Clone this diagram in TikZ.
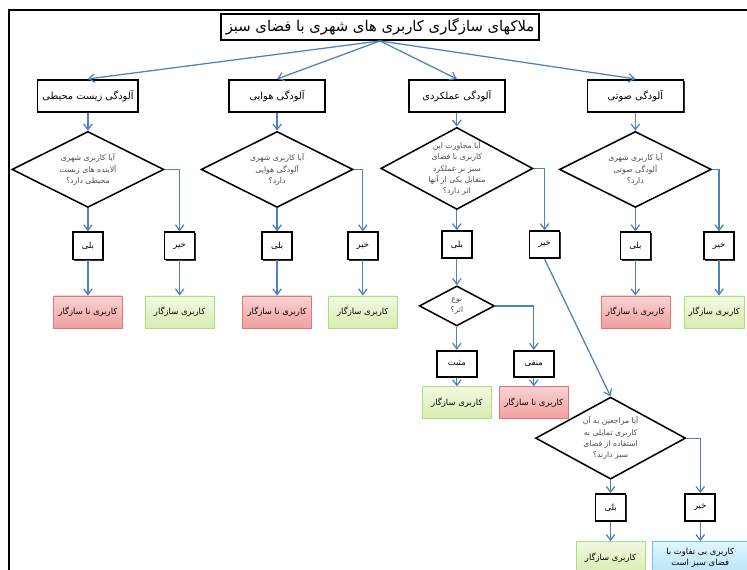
\documentclass[tikz,border=0pt]{standalone}
\usepackage{fontspec}
\newfontfamily\arabicfont[Script=Arabic]{DejaVu Sans}
\TeXXeTstate=1
\usetikzlibrary{shapes.geometric, arrows.meta, positioning, shadows}

\definecolor{linkblue}{HTML}{4F81BD}
\definecolor{unfitfill}{HTML}{FAD2D2}
\definecolor{unfitdeep}{HTML}{F0A0A0}
\definecolor{unfitline}{HTML}{D9797A}
\definecolor{fitfill}{HTML}{F0F9E0}
\definecolor{fitdeep}{HTML}{D8EDB2}
\definecolor{fitline}{HTML}{B4D886}
\definecolor{neutralfill}{HTML}{E0F5FC}
\definecolor{neutraldeep}{HTML}{B8E6F7}
\definecolor{neutralline}{HTML}{6CC3E6}

\newcommand{\fa}[1]{\beginR #1\endR}

\begin{document}
\begin{tikzpicture}[x=0.025cm, y=-0.025cm, auto,
    header/.style={rectangle, draw, line width=1.2pt, fill=white, minimum width=7.65cm, minimum height=0.65cm, font=\fontsize{10.5}{12}\selectfont\arabicfont, drop shadow={shadow xshift=0.9pt, shadow yshift=-0.9pt, fill=black, opacity=0.8}},
    category/.style={rectangle, draw, line width=1.2pt, fill=white, minimum width=2.4cm, minimum height=0.8cm, font=\fontsize{7}{8}\selectfont\arabicfont, drop shadow={shadow xshift=0.9pt, shadow yshift=-0.9pt, fill=black, opacity=0.8}},
    question/.style={diamond, draw, line width=1.1pt, fill=white, aspect=2, inner sep=-2pt, minimum width=3.8cm, minimum height=1.9cm, align=center, text=black!70, font=\fontsize{5.5}{8}\selectfont\arabicfont},
    answer/.style={rectangle, draw, line width=1.2pt, fill=white, minimum width=0.75cm, minimum height=0.68cm, font=\fontsize{6}{7}\selectfont\arabicfont, drop shadow={shadow xshift=0.8pt, shadow yshift=-0.8pt, fill=black, opacity=0.8}},
    outcome/.style={rectangle, draw, minimum width=1.72cm, minimum height=0.8cm, inner xsep=2pt, align=center, font=\fontsize{6}{8}\selectfont\arabicfont},
    unsuited/.style={outcome, draw=unfitline, top color=unfitfill, bottom color=unfitdeep},
    suited/.style={outcome, draw=fitline, top color=fitfill, bottom color=fitdeep},
    neutral/.style={outcome, draw=neutralline, top color=neutralfill, bottom color=neutraldeep},
    line/.style={draw=linkblue, line width=0.9pt, -{Straight Barb[length=4pt, width=6pt]}},
    frame/.style={draw, line width=1.4pt}
]
    \useasboundingbox (0,0) rectangle (747,570);
    \draw [frame] (747,10) -- (9,10) -- (9,570);

    % Title
    \node [header] (title) at (380,27) {\fa{ملاکهای سازگاری کاربری های شهری با فضای سبز}};

    % Pollution types
    \node [category, below=0.95cm of title, xshift=-7.3cm] (env) {\fa{آلودگی زیست محیطی}};
    \node [category, right=2.23cm of env] (air) {\fa{آلودگی هوایی}};
    \node [category, right=2.05cm of air] (func) {\fa{آلودگی عملکردی}};
    \node [category, right=2.02cm of func] (noise) {\fa{آلودگی صوتی}};

    % Questions
    \node [question, below=0.45cm of env] (qenv) {\fa{آیا کاربری شهری}\\\fa{آلاینده های زیست}\\\fa{محیطی دارد؟}};
    \node [question, below=0.45cm of air] (qair) {\fa{آیا کاربری شهری}\\\fa{آلودگی هوایی}\\\fa{دارد؟}};
    \node [question, below=0.35cm of func, minimum height=2.05cm] (qfunc) {\fa{آیا مجاورت این}\\\fa{کاربری با فضای}\\\fa{سبز بر عملکرد}\\\fa{متقابل یکی از آنها}\\\fa{اثر دارد؟}};
    \node [question, below=0.45cm of noise] (qnoise) {\fa{آیا کاربری شهری}\\\fa{آلودگی صوتی}\\\fa{دارد؟}};

    % Answers
    \node [answer, below=0.58cm of qenv] (yenv) {\fa{بلی}};
    \node [answer, right=1.5cm of yenv] (nenv) {\fa{خیر}};
    \node [answer, below=0.58cm of qair] (yair) {\fa{بلی}};
    \node [answer, right=1.35cm of yair] (nair) {\fa{خیر}};
    \node [answer, below=0.5cm of qfunc] (yfunc) {\fa{بلی}};
    \node [answer, right=1.4cm of yfunc] (nfunc) {\fa{خیر}};
    \node [answer, below=0.58cm of qnoise] (ynoise) {\fa{بلی}};
    \node [answer, right=1.3cm of ynoise] (nnoise) {\fa{خیر}};

    % Results
    \node [unsuited, below=0.88cm of yenv] (renv) {\fa{کاربری نا سازگار}};
    \node [suited, below=0.88cm of nenv] (genv) {\fa{کاربری سازگار}};
    \node [unsuited, below=0.88cm of yair] (rair) {\fa{کاربری نا سازگار}};
    \node [suited, below=0.88cm of nair] (gair) {\fa{کاربری سازگار}};
    \node [unsuited, below=0.88cm of ynoise] (rnoise) {\fa{کاربری نا سازگار}};
    \node [suited, below=0.88cm of nnoise, xshift=-0.12cm, minimum width=1.5cm, inner xsep=1pt] (gnoise) {\fa{کاربری سازگار}};

    % Kind of effect
    \node [question, below=0.65cm of yfunc, minimum width=1.88cm, minimum height=1cm] (kind) {\fa{نوع}\\\fa{اثر؟}};
    \node [answer, below=0.58cm of kind, minimum width=1cm, minimum height=0.65cm] (pos) {\fa{مثبت}};
    \node [answer, right=0.88cm of pos, minimum width=1cm, minimum height=0.65cm] (neg) {\fa{منفی}};
    \node [suited, below=0.22cm of pos] (gpos) {\fa{کاربری سازگار}};
    \node [unsuited, below=0.22cm of neg] (rneg) {\fa{کاربری نا سازگار}};

    % Visitors
    \node [question, below=3.43cm of nfunc, xshift=1.65cm, minimum width=3.75cm, minimum height=2.05cm] (visit) {\fa{آیا مراجعین به آن}\\\fa{کاربری تمایلی به}\\\fa{استفاده از فضای}\\\fa{سبز دارند؟}};
    \node [answer, below=0.33cm of visit] (yvisit) {\fa{بلی}};
    \node [answer, right=1.45cm of yvisit] (nvisit) {\fa{خیر}};
    \node [suited, below=0.48cm of yvisit] (gvisit) {\fa{کاربری سازگار}};
    \node [neutral, below=0.48cm of nvisit, minimum width=2.38cm] (bvisit) {\fa{کاربری بی تفاوت با}\\\fa{فضای سبز است}};

    % Connections
    \path [line] (title.south) -- (env.north);
    \path [line] (title.south) -- (air.north);
    \path [line] (title.south) -- (func.north);
    \path [line] (title.south) -- (noise.north);

    \path [line] (env) -- (qenv);
    \path [line] (air) -- (qair);
    \path [line] (func) -- (qfunc);
    \path [line] (noise) -- (qnoise);

    \path [line] (qenv) -- (yenv);
    \path [line] (qenv.east) -| (nenv.north);
    \path [line] (qair) -- (yair);
    \path [line] (qair.east) -| (nair.north);
    \path [line] (qfunc) -- (yfunc);
    \path [line] (qfunc.east) -| (nfunc.north);
    \path [line] (qnoise) -- (ynoise);
    \path [line] (qnoise.east) -| (nnoise.north);

    \path [line] (yenv) -- (renv);
    \path [line] (nenv) -- (genv);
    \path [line] (yair) -- (rair);
    \path [line] (nair) -- (gair);
    \path [line] (ynoise) -- (rnoise);
    \path [line] (nnoise.south) -- (nnoise.south |- gnoise.north);

    \path [line] (yfunc) -- (kind);
    \path [line] (kind) -- (pos);
    \path [line] (kind.east) -| (neg.north);
    \path [line] (pos) -- (gpos);
    \path [line] (neg) -- (rneg);

    \path [line] (nfunc.south) -- (visit.north);
    \path [line] (visit) -- (yvisit);
    \path [line] (visit.east) -| (nvisit.north);
    \path [line] (yvisit) -- (gvisit);
    \path [line] (nvisit) -- (bvisit);
\end{tikzpicture}
\end{document}
